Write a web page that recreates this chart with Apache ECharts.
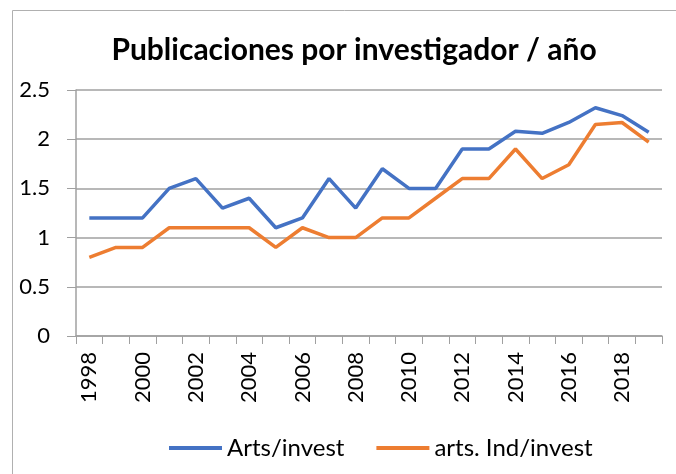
<!DOCTYPE html>
<html>
<head>
<meta charset="utf-8">
<script src="https://cdn.jsdelivr.net/npm/echarts@6/dist/echarts.min.js"></script>
<style>
  html, body { margin: 0; padding: 0; background: #fff; }
  #chart { width: 676px; height: 474px; }
</style>
</head>
<body>
<div id="chart"></div>
<script>
var years = ["1998", "1999", "2000", "2001", "2002", "2003", "2004", "2005", "2006", "2007", "2008",
  "2009", "2010", "2011", "2012", "2013", "2014", "2015", "2016", "2017", "2018", "2019"];
var artsInvest = [1.2, 1.2, 1.2, 1.5, 1.6, 1.3, 1.4, 1.1, 1.2, 1.6, 1.3,
  1.7, 1.5, 1.5, 1.9, 1.9, 2.08, 2.06, 2.17, 2.32, 2.24, 2.07];
var artsIndInvest = [0.8, 0.9, 0.9, 1.1, 1.1, 1.1, 1.1, 0.9, 1.1, 1.0, 1.0,
  1.2, 1.2, 1.4, 1.6, 1.6, 1.9, 1.6, 1.74, 2.15, 2.17, 1.97];
var seriesNames = ["Arts/invest", "arts. Ind/invest"];

var FONT = "Lato";
var GRAY = "#a0a0a0";

var myChart = echarts.init(document.getElementById("chart"));
var option = {
  animation: false,
  textStyle: { fontFamily: FONT },
  title: {
    text: "Publicaciones por investigador / año",
    left: 349,
    textAlign: "center",
    top: 30,
    textStyle: { fontFamily: FONT, fontSize: 30, fontWeight: "bold", color: "#000" },
  },
  graphic: [
    {
      type: "rect",
      left: 10,
      top: 8,
      shape: { width: 700, height: 500 },
      style: { fill: "none", stroke: "#b0b0b0", lineWidth: 1 },
      silent: true,
    },
  ],
  legend: {
    bottom: 9,
    left: 164,
    itemWidth: 53,
    itemHeight: 4,
    itemGap: 32,
    icon: "rect",
    textStyle: { fontFamily: FONT, fontSize: 24, color: "#000" },
    data: seriesNames,
  },
  grid: { left: 76, right: 14, top: 90, bottom: 138 },
  xAxis: {
    type: "category",
    data: years,
    boundaryGap: true,
    axisLine: { lineStyle: { color: GRAY, width: 1.5 } },
    axisTick: { show: true, interval: 0, length: 8, lineStyle: { color: GRAY } },
    axisLabel: { interval: 1, rotate: 90, margin: 16, fontSize: 22, color: "#000", fontFamily: FONT },
  },
  yAxis: {
    type: "value",
    min: 0,
    max: 2.5,
    interval: 0.5,
    axisLine: { show: true, lineStyle: { color: GRAY, width: 1.5 } },
    axisTick: { show: true, length: 9, lineStyle: { color: GRAY } },
    axisLabel: { margin: 26, fontSize: 22, color: "#000", fontFamily: FONT },
    splitLine: { lineStyle: { color: GRAY, width: 1.5 } },
  },
  series: [
    {
      name: seriesNames[0],
      type: "line",
      data: artsInvest,
      symbol: "none",
      lineStyle: { color: "#4472C4", width: 3.5 },
      itemStyle: { color: "#4472C4" },
    },
    {
      name: seriesNames[1],
      type: "line",
      data: artsIndInvest,
      symbol: "none",
      lineStyle: { color: "#ED7D31", width: 3.5 },
      itemStyle: { color: "#ED7D31" },
    },
  ],
};
myChart.setOption(option);
</script>
</body>
</html>
